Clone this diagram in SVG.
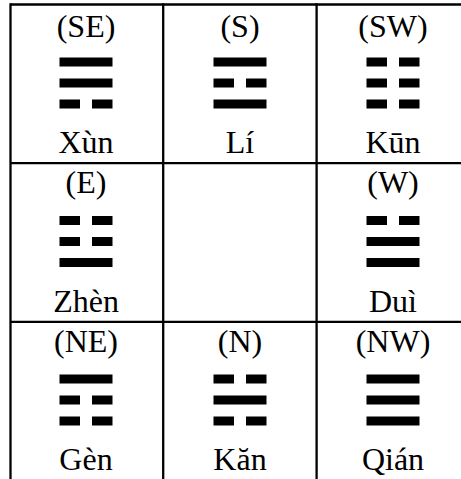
<svg xmlns="http://www.w3.org/2000/svg" width="461" height="479" viewBox="0 0 461 479">
<defs>
<style>
.grid line{stroke:#000;stroke-width:2.3}
text{font-family:"Liberation Serif","Times New Roman",Times,serif;font-size:32px;fill:#000;text-anchor:middle}
.bar{fill:#000}
</style>
<g id="yang"><rect class="bar" x="-26.5" y="0" width="53" height="9"/></g>
<g id="yin"><rect class="bar" x="-26.5" y="0" width="20.5" height="9"/><rect class="bar" x="6" y="0" width="20.5" height="9"/></g>
</defs>
<rect width="461" height="479" fill="#fff"/>
<g id="connectors" class="grid">
<line x1="10.5" y1="4.5" x2="470" y2="4.5"/>
<line x1="10.5" y1="163.2" x2="470" y2="163.2"/>
<line x1="10.5" y1="321.8" x2="470" y2="321.8"/>
<line x1="10.5" y1="3.3" x2="10.5" y2="480"/>
<line x1="163.2" y1="3.3" x2="163.2" y2="480"/>
<line x1="316.6" y1="3.3" x2="316.6" y2="480"/>
</g>
<g id="xun" transform="translate(86,0)">
<text x="0" y="37">(SE)</text>
<use href="#yang" y="57.5"/><use href="#yang" y="78.5"/><use href="#yin" y="99.5"/>
<text x="0" y="153">Xùn</text>
</g>
<g id="li" transform="translate(240,0)">
<text x="0" y="37">(S)</text>
<use href="#yang" y="57.5"/><use href="#yin" y="78.5"/><use href="#yang" y="99.5"/>
<text x="0" y="153">Lí</text>
</g>
<g id="kun" transform="translate(393,0)">
<text x="0" y="37">(SW)</text>
<use href="#yin" y="57.5"/><use href="#yin" y="78.5"/><use href="#yin" y="99.5"/>
<text x="0" y="153">Kūn</text>
</g>
<g id="zhen" transform="translate(86,158.5)">
<text x="0" y="34.5">(E)</text>
<use href="#yin" y="57.5"/><use href="#yin" y="78.5"/><use href="#yang" y="99.5"/>
<text x="0" y="153">Zhèn</text>
</g>
<g id="dui" transform="translate(393,158.5)">
<text x="0" y="34.5">(W)</text>
<use href="#yin" y="57.5"/><use href="#yang" y="78.5"/><use href="#yang" y="99.5"/>
<text x="0" y="153">Duì</text>
</g>
<g id="gen" transform="translate(86,317)">
<text x="0" y="35">(NE)</text>
<use href="#yang" y="57.5"/><use href="#yin" y="78.5"/><use href="#yin" y="99.5"/>
<text x="0" y="153">Gèn</text>
</g>
<g id="kan" transform="translate(240,317)">
<text x="0" y="35">(N)</text>
<use href="#yin" y="57.5"/><use href="#yang" y="78.5"/><use href="#yin" y="99.5"/>
<text x="0" y="153">Kăn</text>
</g>
<g id="qian" transform="translate(393,317)">
<text x="0" y="35">(NW)</text>
<use href="#yang" y="57.5"/><use href="#yang" y="78.5"/><use href="#yang" y="99.5"/>
<text x="0" y="153">Qián</text>
</g>
</svg>
